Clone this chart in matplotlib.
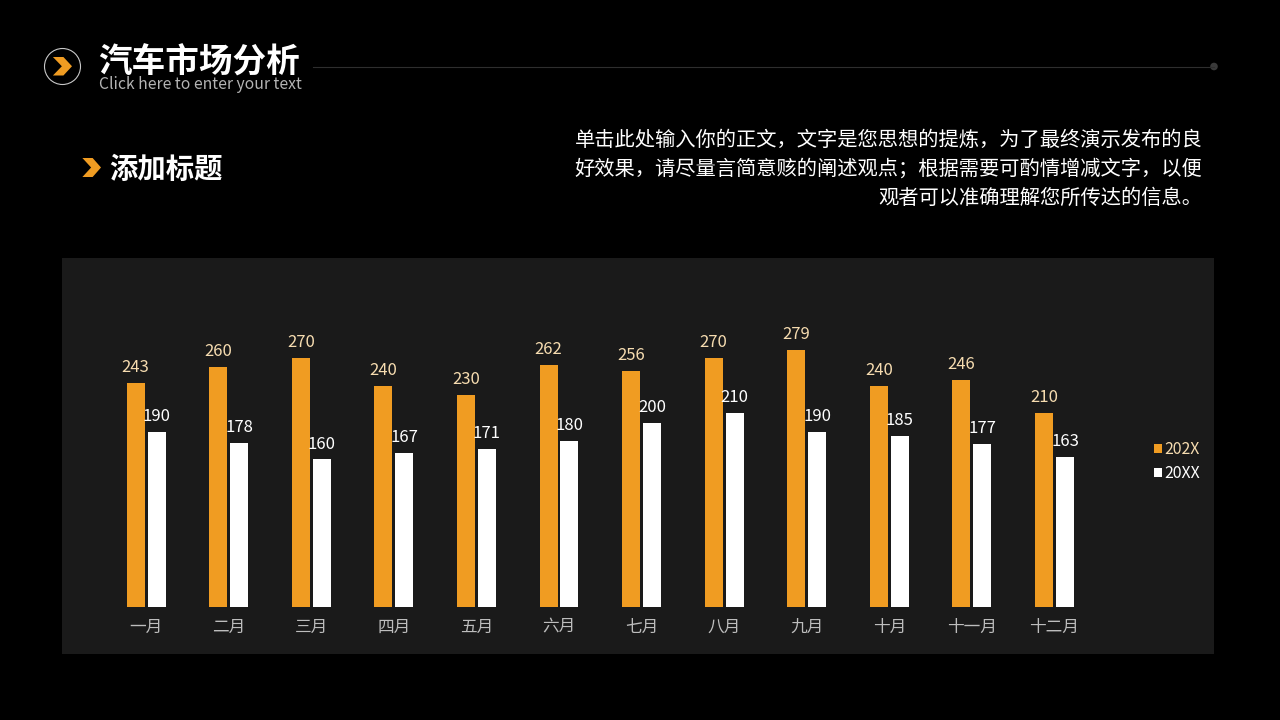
import matplotlib
matplotlib.use("Agg")
import matplotlib.pyplot as plt
from matplotlib.patches import Circle, Polygon, Rectangle
import numpy as np

plt.rcParams['font.family'] = ['Noto Sans CJK SC', 'DejaVu Sans']

months = ['一月', '二月', '三月', '四月', '五月', '六月', '七月', '八月', '九月', '十月', '十一月', '十二月']
series_a = [243, 260, 270, 240, 230, 262, 256, 270, 279, 240, 246, 210]
series_b = [190, 178, 160, 167, 171, 180, 200, 210, 190, 185, 177, 163]
series_names = ['202X', '20XX']

ORANGE = '#F09C22'
PALE = '#F6DCB0'
WHITE = '#FFFFFF'
PANEL = '#1A1A1A'

title = '汽车市场分析'
subtitle = 'Click here to enter your text'
heading = '添加标题'
body_lines = [
    '单击此处输入你的正文，文字是您思想的提炼，为了最终演示发布的良',
    '好效果，请尽量言简意赅的阐述观点；根据需要可酌情增减文字，以便',
    '观者可以准确理解您所传达的信息。',
]

fig = plt.figure(figsize=(12.8, 7.2), dpi=100, facecolor='black')

# Full-slide layer in pixel units for the panel, header and copy
bg = fig.add_axes([0, 0, 1, 1])
bg.set_xlim(0, 1280)
bg.set_ylim(720, 0)
bg.axis('off')

bg.add_patch(Rectangle((62, 258), 1152, 396, fc=PANEL, ec='none'))
bg.plot([313, 1214], [66.5, 66.5], color='#2E2E2E', lw=0.8)
bg.add_patch(Circle((1214, 66.5), 3.8, fc='#3A3A3A', ec='none'))
bg.add_patch(Circle((62.5, 66.5), 18, fc='none', ec='#C8C8C8', lw=0.8))


def chevron(x0, y0, w, h):
    pts = [(0.02, 0), (0.56, 0), (1, 0.5), (0.56, 1), (0.02, 1), (0.48, 0.5)]
    bg.add_patch(Polygon([(x0 + a * w, y0 + b * h) for a, b in pts], fc=ORANGE, ec='none'))


chevron(52.5, 57, 19.5, 18.5)
chevron(82, 158, 19, 19)

bg.text(98, 63, title, color=WHITE, fontsize=24.2, fontweight='bold', va='center', ha='left')
bg.text(99, 84.5, subtitle, color='#B4B4B4', fontsize=11.3, va='center', ha='left')
bg.text(109, 170, heading, color=WHITE, fontsize=20.4, fontweight='bold', va='center', ha='left')
for i, line in enumerate(body_lines):
    bg.text(1202.5, 140 + i * 29.2, line, color=WHITE, fontsize=14.6, fontweight='medium',
            va='center', ha='right')

# Bar chart, aligned so the baseline sits near the bottom of the panel
ax = fig.add_axes([104.8 / 1280, (720 - 607) / 720, 991 / 1280, 276.6 / 720])
ax.set_facecolor('none')
x = np.arange(len(months))
offset = 0.127
width = 0.218
bars_a = ax.bar(x - offset, series_a, width, color=ORANGE, label=series_names[0])
bars_b = ax.bar(x + offset, series_b, width, color=WHITE, label=series_names[1])
ax.bar_label(bars_a, color=PALE, fontsize=12, padding=5)
ax.bar_label(bars_b, color=WHITE, fontsize=12, padding=5)
ax.set_xlim(-0.5, 11.5)
ax.set_ylim(0, 300)
ax.set_yticks([])
ax.set_xticks(x, months)
ax.tick_params(axis='x', length=0, pad=8.3, labelsize=12, labelcolor='#BDBDBD')
for side in ax.spines.values():
    side.set_visible(False)

leg = ax.legend(loc='center left', bbox_to_anchor=(1154 / 1280, (720 - 461.5) / 720),
                bbox_transform=fig.transFigure, frameon=False, fontsize=11.4,
                handlelength=0.52, handleheight=0.52, handletextpad=0.12,
                labelspacing=0.44, borderpad=0, borderaxespad=0)
leg.get_texts()[0].set_color(PALE)
leg.get_texts()[1].set_color(WHITE)

fig.savefig('out.png', dpi=100, facecolor='black')
